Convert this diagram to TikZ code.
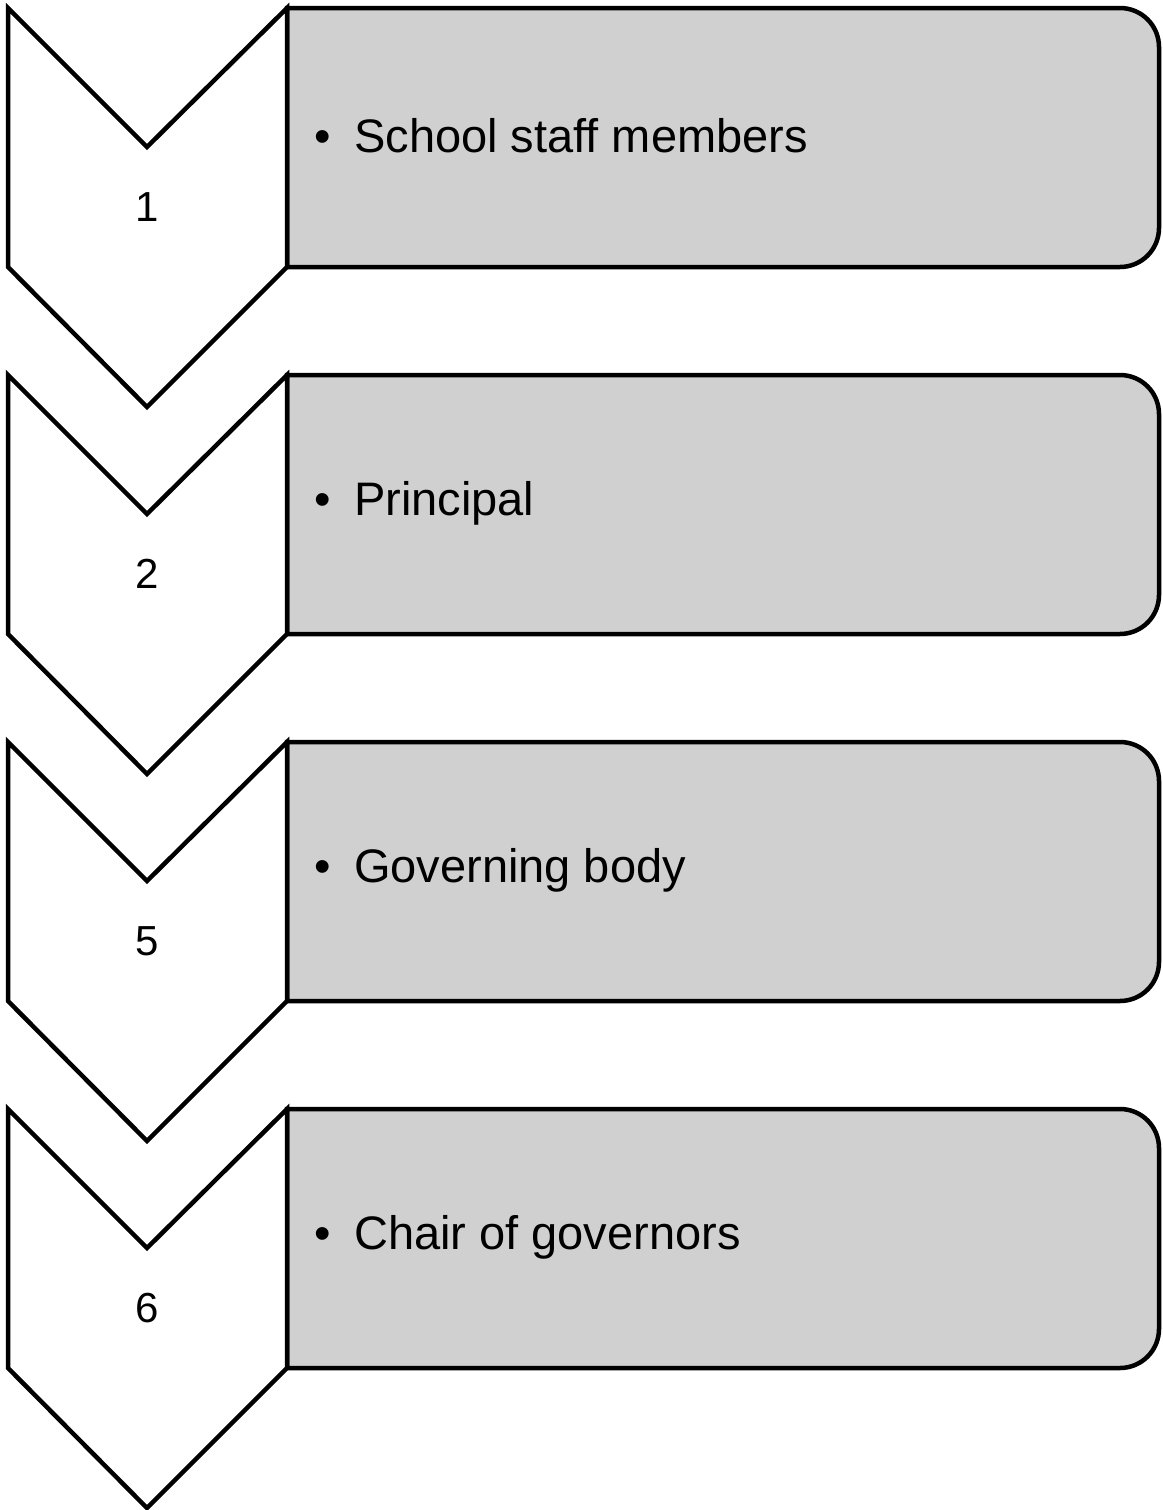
\documentclass[tikz,border=0pt]{standalone}
\usepackage{fontspec}
\setmainfont{Liberation Sans}
\begin{document}
\begin{tikzpicture}[x=1pt,y=-1pt,
  chev/.style={draw=black,fill=white,line width=4.5pt,line join=miter},
  itembox/.style={draw=black,fill=boxgray,line width=4.5pt},
  numtxt/.style={font=\fontsize{42}{48}\selectfont,inner sep=0pt},
  itemtxt/.style={font=\fontsize{47}{54}\selectfont,inner sep=0pt,anchor=west}]
\definecolor{boxgray}{HTML}{D0D0D0}
\useasboundingbox (0,0) rectangle (1162,1510);
\foreach \i/\n/\t in {0/1/School staff members,1/2/Principal,2/5/Governing body,3/6/Chair of governors}{
  \pgfmathsetmacro{\y}{8+367*\i}
  % box with rounded right corners
  \draw[itembox] (287,\y) -- (1120,\y) arc[start angle=-90,end angle=0,radius=39]
     -- (1159,\y+220) arc[start angle=0,end angle=90,radius=39] -- (287,\y+259) -- cycle;
  % chevron
  \draw[chev] (8,\y) -- (147,\y+139) -- (287,\y) -- (287,\y+259) -- (147,\y+399) -- (8,\y+259) -- cycle;
  \node[numtxt] (num\i) at (147,\y+199) {\n};
  \node[itemtxt] (txt\i) at (314,\y+128) {•\hspace{0.5em}\t};
}
\end{tikzpicture}
\end{document}
